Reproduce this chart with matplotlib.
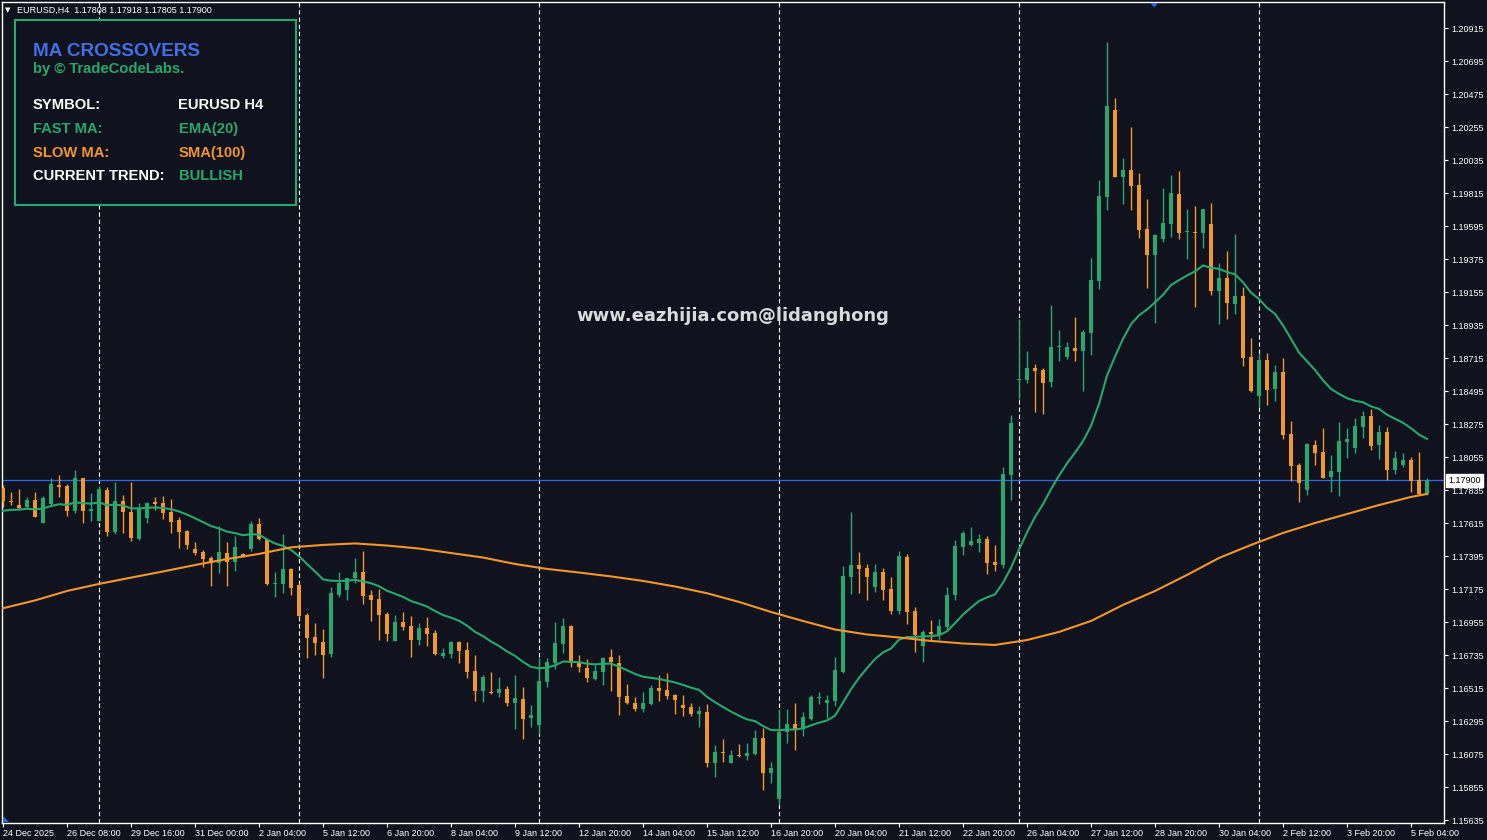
import numpy as np
import pandas as pd
import matplotlib
matplotlib.use("Agg")
import matplotlib.pyplot as plt
import matplotlib.transforms as mtransforms
from matplotlib.patches import Rectangle, Polygon

# ---------------- data (EURUSD H4) ----------------
opens = [1.17847, 1.17762, 1.17736, 1.17724, 1.17767, 1.17618, 1.17742, 1.17869, 1.17862, 1.17698,
         1.17914, 1.17698, 1.17631, 1.17836, 1.17558, 1.17762, 1.17691, 1.17509, 1.17651, 1.17758,
         1.17751, 1.17691, 1.17636, 1.17564, 1.17444, 1.17422, 1.17384, 1.17347, 1.17414, 1.17358,
         1.17407, 1.17442, 1.17609, 1.17507, 1.17211, 1.17209, 1.17307, 1.17202, 1.17002, 1.16855,
         1.16822, 1.16744, 1.17136, 1.17169, 1.17247, 1.17287, 1.17136, 1.17109, 1.17009, 1.16831,
         1.16957, 1.16929, 1.16835, 1.16913, 1.16880, 1.16729, 1.16742, 1.16822, 1.16769, 1.16629,
         1.16497, 1.16489, 1.16484, 1.16509, 1.16417, 1.16442, 1.16317, 1.16269, 1.16557, 1.16684,
         1.16811, 1.16929, 1.16684, 1.16647, 1.16577, 1.16624, 1.16722, 1.16682, 1.16462, 1.16415,
         1.16375, 1.16409, 1.16515, 1.16502, 1.16469, 1.16402, 1.16389, 1.16344, 1.16355, 1.16013,
         1.16088, 1.16017, 1.16068, 1.16064, 1.16075, 1.16182, 1.15950, 1.15777, 1.16224, 1.16275,
         1.16240, 1.16309, 1.16451, 1.16417, 1.16429, 1.16622, 1.17256, 1.17336, 1.17316, 1.17189,
         1.17289, 1.17176, 1.17029, 1.17389, 1.17029, 1.16795, 1.16889, 1.16869, 1.16922, 1.17136,
         1.17456, 1.17469, 1.17482, 1.17509, 1.17356, 1.17336, 1.17935, 1.18569, 1.18569, 1.18649,
         1.18635, 1.18557, 1.18786, 1.18724, 1.18782, 1.18764, 1.18884, 1.19231, 1.19791, 1.20369,
         1.19924, 1.19969, 1.19869, 1.19575, 1.19404, 1.19511, 1.19611, 1.19809, 1.19556, 1.19558,
         1.19551, 1.19609, 1.19164, 1.19249, 1.19078, 1.19129, 1.18722, 1.18462, 1.18702, 1.18509,
         1.18622, 1.18209, 1.18002, 1.17835, 1.18135, 1.18089, 1.17922, 1.17955, 1.18155, 1.18115,
         1.18255, 1.18329, 1.18135, 1.18222, 1.17969, 1.18002, 1.18035, 1.17902, 1.17808]
highs = [1.17869, 1.17822, 1.17842, 1.17789, 1.17822, 1.17796, 1.17916, 1.17936, 1.17876, 1.17969,
         1.17918, 1.17814, 1.17862, 1.17858, 1.17889, 1.17802, 1.17889, 1.17747, 1.17755, 1.17791,
         1.17796, 1.17774, 1.17654, 1.17567, 1.17489, 1.17436, 1.17396, 1.17596, 1.17489, 1.17529,
         1.17414, 1.17629, 1.17647, 1.17510, 1.17289, 1.17542, 1.17316, 1.17213, 1.17013, 1.16947,
         1.16907, 1.17191, 1.17287, 1.17250, 1.17380, 1.17429, 1.17169, 1.17173, 1.17024, 1.17002,
         1.17024, 1.16995, 1.16947, 1.16987, 1.16902, 1.16784, 1.16829, 1.16829, 1.16822, 1.16735,
         1.16602, 1.16622, 1.16589, 1.16529, 1.16602, 1.16522, 1.16402, 1.16713, 1.16713, 1.16953,
         1.16980, 1.16935, 1.16735, 1.16709, 1.16669, 1.16722, 1.16775, 1.16735, 1.16542, 1.16455,
         1.16489, 1.16535, 1.16602, 1.16615, 1.16475, 1.16469, 1.16415, 1.16395, 1.16409, 1.16135,
         1.16175, 1.16102, 1.16142, 1.16150, 1.16235, 1.16249, 1.16022, 1.16373, 1.16375, 1.16415,
         1.16355, 1.16469, 1.16489, 1.16469, 1.16722, 1.17329, 1.17689, 1.17422, 1.17342, 1.17342,
         1.17316, 1.17256, 1.17429, 1.17409, 1.17055, 1.16902, 1.16969, 1.16975, 1.17189, 1.17502,
         1.17562, 1.17589, 1.17542, 1.17529, 1.17469, 1.17991, 1.18335, 1.18973, 1.18762, 1.18675,
         1.18649, 1.19069, 1.18902, 1.18822, 1.18989, 1.18902, 1.19382, 1.19902, 1.20822, 1.20449,
         1.20049, 1.20256, 1.19949, 1.19776, 1.19540, 1.19849, 1.19936, 1.19962, 1.19709, 1.19729,
         1.19712, 1.19749, 1.19349, 1.19429, 1.19542, 1.19191, 1.18849, 1.18749, 1.18749, 1.18669,
         1.18715, 1.18295, 1.18015, 1.18149, 1.18169, 1.18249, 1.18069, 1.18289, 1.18249, 1.18315,
         1.18362, 1.18375, 1.18269, 1.18255, 1.18095, 1.18082, 1.18055, 1.18089, 1.17918]
lows = [1.17724, 1.17736, 1.17709, 1.17718, 1.17658, 1.17618, 1.17729, 1.17791, 1.17664, 1.17684,
        1.17614, 1.17629, 1.17629, 1.17529, 1.17542, 1.17551, 1.17496, 1.17502, 1.17618, 1.17702,
        1.17640, 1.17551, 1.17447, 1.17440, 1.17402, 1.17324, 1.17196, 1.17284, 1.17196, 1.17296,
        1.17391, 1.17431, 1.17502, 1.17202, 1.17124, 1.17151, 1.17136, 1.16987, 1.16717, 1.16735,
        1.16584, 1.16724, 1.17124, 1.17102, 1.17217, 1.17075, 1.16962, 1.16835, 1.16829, 1.16829,
        1.16902, 1.16724, 1.16802, 1.16795, 1.16733, 1.16717, 1.16717, 1.16684, 1.16580, 1.16431,
        1.16424, 1.16475, 1.16457, 1.16397, 1.16244, 1.16177, 1.16257, 1.16207, 1.16524, 1.16640,
        1.16751, 1.16657, 1.16624, 1.16557, 1.16569, 1.16535, 1.16495, 1.16335, 1.16409, 1.16364,
        1.16355, 1.16402, 1.16429, 1.16444, 1.16342, 1.16329, 1.16331, 1.16255, 1.15986, 1.15924,
        1.16024, 1.16013, 1.16053, 1.16035, 1.16066, 1.15835, 1.15884, 1.15742, 1.16150, 1.16102,
        1.16195, 1.16302, 1.16409, 1.16315, 1.16395, 1.16615, 1.17142, 1.17149, 1.17102, 1.17156,
        1.17102, 1.17009, 1.17009, 1.16942, 1.16755, 1.16689, 1.16835, 1.16835, 1.16902, 1.17102,
        1.17402, 1.17462, 1.17422, 1.17276, 1.17296, 1.17316, 1.17769, 1.18440, 1.18551, 1.18357,
        1.18342, 1.18524, 1.18697, 1.18711, 1.18697, 1.18497, 1.18737, 1.19177, 1.19704, 1.19920,
        1.19744, 1.19704, 1.19518, 1.19184, 1.18951, 1.19491, 1.19524, 1.19511, 1.19376, 1.19058,
        1.19451, 1.19138, 1.18944, 1.18978, 1.19011, 1.18664, 1.18489, 1.18389, 1.18402, 1.18429,
        1.18175, 1.17895, 1.17755, 1.17802, 1.18002, 1.17912, 1.17822, 1.17795, 1.18049, 1.18082,
        1.18182, 1.18102, 1.18042, 1.17902, 1.17942, 1.17989, 1.17822, 1.17805, 1.17805]
closes = [1.17764, 1.17758, 1.17718, 1.17769, 1.17658, 1.17780, 1.17876, 1.17858, 1.17696, 1.17914,
          1.17698, 1.17707, 1.17840, 1.17558, 1.17762, 1.17691, 1.17518, 1.17718, 1.17751, 1.17742,
          1.17684, 1.17622, 1.17558, 1.17469, 1.17418, 1.17376, 1.17347, 1.17422, 1.17358, 1.17456,
          1.17398, 1.17609, 1.17507, 1.17209, 1.17216, 1.17309, 1.17184, 1.16995, 1.16851, 1.16817,
          1.16735, 1.17147, 1.17213, 1.17247, 1.17287, 1.17129, 1.17102, 1.17002, 1.16875, 1.16957,
          1.16920, 1.16835, 1.16913, 1.16875, 1.16742, 1.16747, 1.16822, 1.16764, 1.16624, 1.16497,
          1.16589, 1.16484, 1.16509, 1.16417, 1.16449, 1.16311, 1.16335, 1.16562, 1.16687, 1.16815,
          1.16929, 1.16680, 1.16657, 1.16584, 1.16629, 1.16715, 1.16689, 1.16457, 1.16413, 1.16375,
          1.16415, 1.16515, 1.16495, 1.16462, 1.16435, 1.16384, 1.16342, 1.16362, 1.16013, 1.16086,
          1.16084, 1.16066, 1.16064, 1.16080, 1.16182, 1.15950, 1.15982, 1.16222, 1.16275, 1.16244,
          1.16322, 1.16455, 1.16455, 1.16435, 1.16635, 1.17262, 1.17336, 1.17309, 1.17256, 1.17289,
          1.17169, 1.17029, 1.17396, 1.17022, 1.16869, 1.16889, 1.16875, 1.16929, 1.17136, 1.17462,
          1.17549, 1.17496, 1.17509, 1.17349, 1.17336, 1.17942, 1.18280, 1.18575, 1.18649, 1.18631,
          1.18551, 1.18789, 1.18789, 1.18789, 1.18764, 1.18889, 1.19235, 1.19796, 1.20395, 1.19924,
          1.19969, 1.19864, 1.19571, 1.19404, 1.19536, 1.19616, 1.19816, 1.19551, 1.19560, 1.19551,
          1.19709, 1.19164, 1.19249, 1.19084, 1.19129, 1.18717, 1.18495, 1.18702, 1.18502, 1.18622,
          1.18202, 1.17995, 1.17882, 1.18142, 1.18082, 1.17915, 1.17962, 1.18162, 1.18175, 1.18262,
          1.18329, 1.18129, 1.18222, 1.17969, 1.18049, 1.18035, 1.17895, 1.17808, 1.17900]

ema_period = 20
ema_start = 1.17697          # EMA(20) value at the first visible bar

sma_bars = [0, 4, 8, 12, 16, 20, 24, 28, 32, 36, 40, 44, 48, 52, 56, 60, 64, 68, 72, 76, 80, 84,
            88, 92, 96, 100, 104, 108, 112, 116, 120, 124, 128, 132, 136, 140, 144, 148, 152, 156,
            160, 164, 168, 172, 176, 178]
sma_values = [1.17047, 1.17099, 1.17162, 1.17209, 1.17251, 1.17292, 1.17335, 1.17375, 1.17409,
              1.17453, 1.17469, 1.17479, 1.17465, 1.17445, 1.17415, 1.17385, 1.17342, 1.17309,
              1.17285, 1.17259, 1.17229, 1.17192, 1.17147, 1.17089, 1.17022, 1.16962, 1.16905,
              1.16872, 1.16852, 1.16829, 1.16812, 1.16802, 1.16835, 1.16889, 1.16962, 1.17069,
              1.17162, 1.17269, 1.17382, 1.17469, 1.17549, 1.17615, 1.17675, 1.17735, 1.17789,
              1.17809]

date_labels = ["24 Dec 2025", "26 Dec 08:00", "29 Dec 16:00", "31 Dec 00:00", "2 Jan 04:00",
               "5 Jan 12:00", "6 Jan 20:00", "8 Jan 04:00", "9 Jan 12:00", "12 Jan 20:00",
               "14 Jan 04:00", "15 Jan 12:00", "16 Jan 20:00", "20 Jan 04:00", "21 Jan 12:00",
               "22 Jan 20:00", "26 Jan 04:00", "27 Jan 12:00", "28 Jan 20:00", "30 Jan 04:00",
               "2 Feb 12:00", "3 Feb 20:00", "5 Feb 04:00"]
date_label_bars = [0, 8, 16, 24, 32, 40, 48, 56, 64, 72, 80, 88, 96, 104, 112, 120, 128, 136,
                   144, 152, 160, 168, 176]
week_separator_bars = [12, 37, 67, 97, 127, 157]
price_ticks = [1.20915, 1.20695, 1.20475, 1.20255, 1.20035, 1.19815, 1.19595, 1.19375, 1.19155,
               1.18935, 1.18715, 1.18495, 1.18275, 1.18055, 1.17835, 1.17615, 1.17395, 1.17175,
               1.16955, 1.16735, 1.16515, 1.16295, 1.16075, 1.15855, 1.15635]
current_price = 1.17900

info_rows = [("SYMBOL:", "EURUSD H4", "white", "white"),
             ("FAST MA:", "EMA(20)", "green", "green"),
             ("SLOW MA:", "SMA(100)", "orange", "orange"),
             ("CURRENT TREND:", "BULLISH", "white", "green")]

# ---------------- style ----------------
BG = "#10121d"
GREEN = "#26a86f"
ORANGE = "#f2972b"
TITLE_BLUE = "#4270e4"
LINE_BLUE = "#2f66f2"
cmap = {"white": "white", "green": GREEN, "orange": ORANGE}

plt.rcParams['font.family'] = ['Liberation Sans', 'DejaVu Sans']

W, H = 1487, 840
fig = plt.figure(figsize=(W / 100, H / 100), dpi=100)
fig.patch.set_facecolor(BG)


def fx(x):
    return x / W


def fy(y):
    return 1 - y / H


ax = fig.add_axes([fx(2), fy(822.7), fx(1444) - fx(2), fy(2) - fy(822.7)])
ax.set_facecolor(BG)

o = np.array(opens)
h = np.array(highs)
l = np.array(lows)
c = np.array(closes)
n = len(c)
xs = np.arange(n)
up = c >= o
cols = np.where(up, GREEN, ORANGE)

# wicks and bodies
ax.vlines(xs, l, h, colors=cols, lw=1.0, zorder=3)
body_h = np.maximum(np.abs(c - o), 0.00007)
ax.bar(xs, body_h, bottom=np.minimum(o, c), width=0.62, color=cols, linewidth=0, zorder=4)

# moving averages
ema = pd.Series([ema_start] + closes[1:]).ewm(span=ema_period, adjust=False).mean()
ax.plot(xs, ema.values, color=GREEN, lw=1.5, zorder=5, solid_joinstyle='miter')
ax.plot(sma_bars, sma_values, color=ORANGE, lw=1.5, zorder=5)

# week separators and current price line
for b in week_separator_bars:
    ax.axvline(b, color="white", lw=0.8, linestyle=(0, (4, 2.5)), zorder=2)
ax.axhline(current_price, color=LINE_BLUE, lw=0.9, zorder=2)

ax.set_xlim(-0.125, 180.125)
ax.set_ylim(1.15617, 1.21089)

for sp in ax.spines.values():
    sp.set_color("white")
    sp.set_linewidth(1.0)

ax.yaxis.tick_right()
ax.set_yticks(price_ticks)
ax.set_yticklabels([f"{v:.5f}" for v in price_ticks])
ax.tick_params(axis='y', right=True, left=False, labelright=True, labelleft=False,
               length=3, width=0.8, colors="white", labelsize=6.5, pad=2)
ax.set_xticks(date_label_bars)
ax.set_xticklabels(date_labels)
ax.tick_params(axis='x', length=3, width=0.8, colors="white", labelsize=6.5, pad=1.5)
for t in ax.get_xticklabels():
    t.set_horizontalalignment('left')

# current price label
ax.annotate(f"{current_price:.5f}", xy=(1.0, current_price),
            xycoords=('axes fraction', 'data'), xytext=(3.2, 0), textcoords='offset points',
            ha='left', va='center', fontsize=6.5, color="black",
            bbox=dict(boxstyle='square,pad=0.22', fc='white', ec='white'), zorder=10)

# header
fig.text(fx(5), fy(10), "\u25BC", color="white", fontsize=5, va='center', ha='left',
         family=['DejaVu Sans'])
fig.text(fx(17), fy(10), "EURUSD,H4  1.17808 1.17918 1.17805 1.17900", color="white",
         fontsize=6.5, va='center', ha='left')

# blue markers
fig.add_artist(Polygon([[fx(1150.5), fy(3)], [fx(1158), fy(3)], [fx(1154.2), fy(7.5)]],
                       closed=True, transform=fig.transFigure, fc=LINE_BLUE, ec='none'))
fig.add_artist(Polygon([[fx(3), fy(816)], [fx(3), fy(822)], [fx(9), fy(822)]],
                       closed=True, transform=fig.transFigure, fc=LINE_BLUE, ec='none'))

# info panel
fig.add_artist(Rectangle((fx(15), fy(205)), fx(296) - fx(15), fy(20.3) - fy(205),
                         transform=fig.transFigure, fill=True, fc=BG, ec=GREEN, lw=1.5))
fig.text(fx(33), fy(56), "MA CROSSOVERS", color=TITLE_BLUE, fontsize=13.6,
         fontweight='bold', va='baseline', ha='left')
fig.text(fx(33), fy(73.5), "by \u00A9 TradeCodeLabs.", color=GREEN, fontsize=10.6,
         fontweight='bold', va='baseline', ha='left')
row_y = [109.3, 133.0, 156.8, 180.5]
for (lab, val, lc, vc), yy in zip(info_rows, row_y):
    fig.text(fx(33), fy(yy), lab, color=cmap[lc], fontsize=10.6, fontweight='bold',
             va='baseline', ha='left')
    fig.text(fx(178.5), fy(yy), val, color=cmap[vc], fontsize=10.6, fontweight='bold',
             va='baseline', ha='left')

# watermark
fig.text(fx(733), fy(316), "www.eazhijia.com@lidanghong", color="#d9d9de", fontsize=13,
         fontweight='bold', va='center', ha='center', family=['DejaVu Sans'])

fig.savefig("out.png", dpi=100, facecolor=BG)
